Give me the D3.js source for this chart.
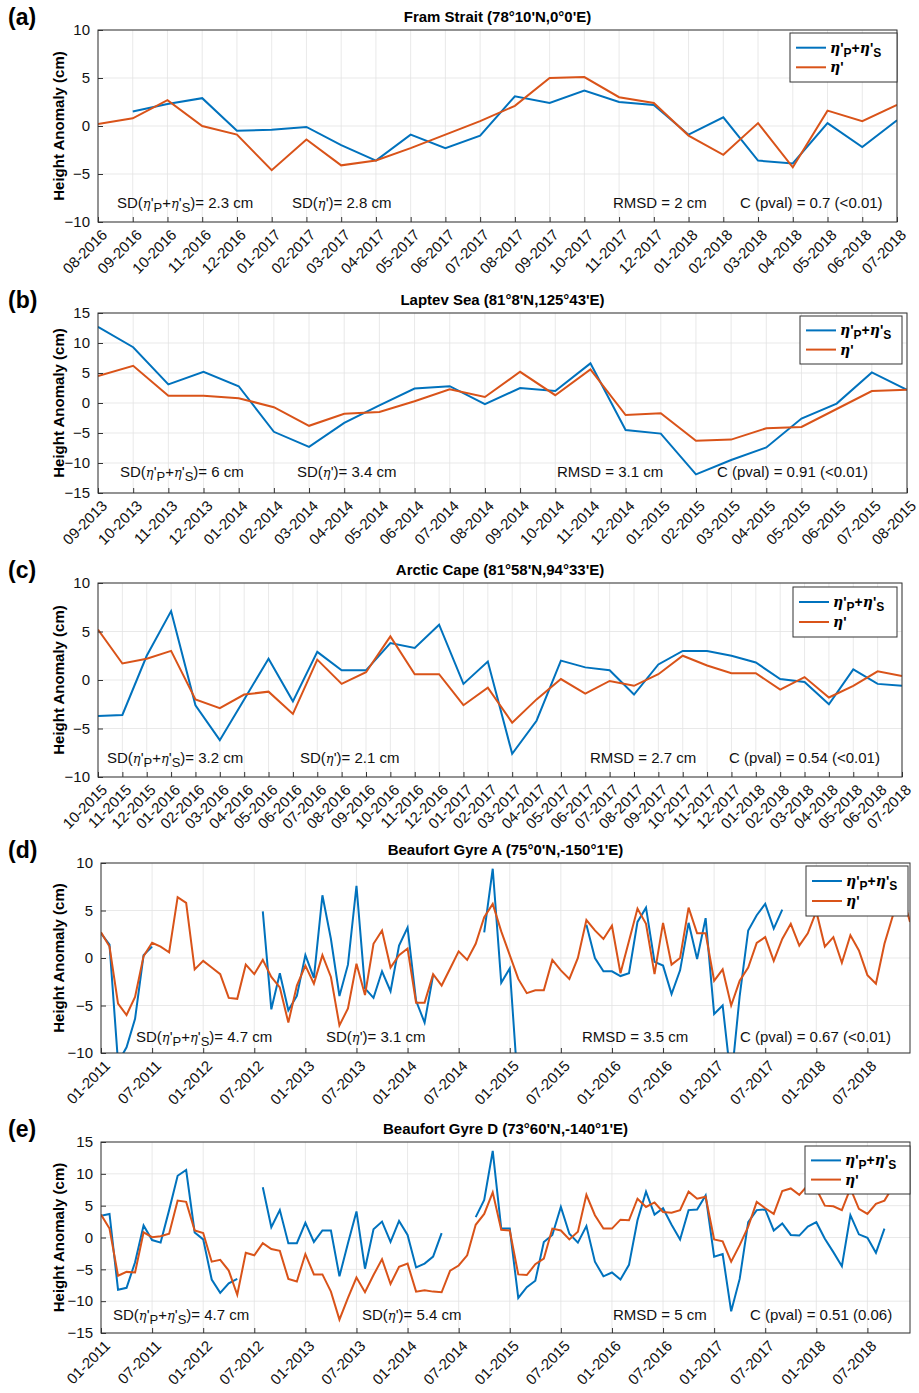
<!DOCTYPE html>
<html><head><meta charset="utf-8">
<script src="https://cdn.jsdelivr.net/npm/d3@7"></script>
<style>body{margin:0;background:#fff;font-family:"Liberation Sans",Arial,sans-serif}</style>
</head><body><div id="d3-container"></div>
<script>
// panel (a) Fram Strait, monthly 08-2016..07-2018
const monthsA = ["08-2016","09-2016","10-2016","11-2016","12-2016","01-2017","02-2017","03-2017","04-2017","05-2017","06-2017","07-2017","08-2017","09-2017","10-2017","11-2017","12-2017","01-2018","02-2018","03-2018","04-2018","05-2018","06-2018","07-2018"];
const blueA = [null,1.5,2.3,2.9,-0.5,-0.4,-0.1,-2,-3.6,-0.9,-2.3,-1,3.1,2.4,3.7,2.5,2.2,-0.9,0.9,-3.6,-3.9,0.3,-2.2,0.6];
const redA = [0.2,0.8,2.7,0,-0.9,-4.6,-1.4,-4.1,-3.6,-2.3,-0.9,0.5,2.1,5,5.1,3,2.4,-1,-3,0.3,-4.3,1.6,0.5,2.2];

// panel (b) Laptev Sea, 09-2013..08-2015
const monthsB = ["09-2013","10-2013","11-2013","12-2013","01-2014","02-2014","03-2014","04-2014","05-2014","06-2014","07-2014","08-2014","09-2014","10-2014","11-2014","12-2014","01-2015","02-2015","03-2015","04-2015","05-2015","06-2015","07-2015","08-2015"];
const blueB = [12.7,9.3,3.1,5.2,2.8,-4.8,-7.3,-3.3,-0.4,2.4,2.8,-0.2,2.5,2,6.6,-4.5,-5.1,-11.9,-9.5,-7.4,-2.6,-0.1,5.1,2.2];
const redB = [4.5,6.2,1.2,1.2,0.8,-0.7,-3.8,-1.8,-1.5,0.3,2.3,1,5.2,1.3,5.6,-2,-1.7,-6.3,-6.1,-4.2,-4,-1,2,2.2];

// panel (c) Arctic Cape, 10-2015..07-2018
const monthsC = ["10-2015","11-2015","12-2015","01-2016","02-2016","03-2016","04-2016","05-2016","06-2016","07-2016","08-2016","09-2016","10-2016","11-2016","12-2016","01-2017","02-2017","03-2017","04-2017","05-2017","06-2017","07-2017","08-2017","09-2017","10-2017","11-2017","12-2017","01-2018","02-2018","03-2018","04-2018","05-2018","06-2018","07-2018"];
const blueC = [-3.7,-3.6,2.5,7.1,-2.6,-6.2,-2,2.2,-2.2,2.9,1,1,3.8,3.3,5.7,-0.4,1.9,-7.6,-4.2,2,1.3,1,-1.5,1.6,3,3,2.5,1.8,0.1,-0.2,-2.5,1.1,-0.4,-0.6];
const redC = [5.2,1.7,2.2,3,-2,-2.9,-1.5,-1.2,-3.5,2.1,-0.4,0.8,4.5,0.6,0.6,-2.6,-0.8,-4.4,-2,0.1,-1.4,-0.1,-0.6,0.6,2.5,1.5,0.7,0.7,-1,0.3,-1.8,-0.6,0.9,0.4];

// panels (d),(e): monthly 01-2011..12-2018, labels every 6 months
const ticksDE = ["01-2011","07-2011","01-2012","07-2012","01-2013","07-2013","01-2014","07-2014","01-2015","07-2015","01-2016","07-2016","01-2017","07-2017","01-2018","07-2018"];
const blueD = [2.6,1.4,-11,-9.4,-6.4,0.3,1.2,null,null,null,null,null,null,null,null,null,null,null,null,
  4.9,-5.4,-1.6,-5.5,-4,0.3,-2.1,6.6,2,-4,-0.7,7.6,-3.2,-4.2,-1.4,-3.5,1.3,3.2,-4.5,-6.8,-1.8,
  null,null,null,null,null,2.7,9.4,-2.6,-1.1,-14,null,null,null,null,null,null,null,
  3.5,0,-1.4,-1.4,-1.9,-1.6,3.8,5.3,-0.4,-0.8,-3.8,-1.3,3.7,-0.1,4.2,-5.9,-5,-13,-4,2.9,4.5,5.7,3.1,5.1,
  null,null,null,null,null,null,null,null,null,null,null,null,null,null,null];
const redD = [2.7,1.2,-4.8,-6,-4.1,0.2,1.6,1.2,0.6,6.4,5.8,-1.2,-0.3,-1,-1.7,-4.2,-4.3,-0.7,-1.7,-0.2,
  -2,-3.1,-6.8,-2.9,-0.8,-2.7,0.3,-2,-7.1,-5.3,-0.6,-3.9,1.5,2.9,-1,0.3,1,-4.7,-4.7,-1.7,
  -2.9,-1.1,0.7,-0.2,1.5,4.3,5.7,2.8,0.3,-2.2,-3.7,-3.4,-3.4,-0.2,-1.3,-2.2,0,4,2.9,2,
  3.4,-1.6,1.8,5.2,3.6,-1.7,3.7,-0.7,0,5.3,2.6,2.6,-2.4,-1.2,-5,-2.4,-1,1.6,2.2,-0.3,
  2,3.6,1.3,2.6,4.9,1.2,2.2,-0.5,2.4,0.8,-1.8,-2.7,1.5,4.5,7,3.8];
const blueE = [3.4,3.7,-8.2,-7.9,-3.9,1.9,-0.4,-0.8,4.3,9.7,10.6,0.8,-0.3,-6.6,-8.7,-7.2,-6.5,null,null,
  7.9,1.6,4.3,-0.9,-0.9,2.3,-0.7,1.1,1.1,-6.1,-0.9,4.1,-4.9,1.3,2.5,-0.7,2.6,0.4,-4.7,-4.1,-3,0.7,
  null,null,null,3.2,5.9,13.6,1.4,1.4,-9.5,-7.8,-6.8,-0.7,0.4,4.8,0.6,-0.8,1.8,-3.8,-6.1,-5.5,-6.6,-4.3,
  2.7,7.2,3.6,4.6,2,-0.3,4.3,4.4,6.6,-3,-2.6,-11.6,-6.5,2.4,4.3,4.4,1.1,2.2,0.4,0.3,1.7,2.4,
  -0.2,-2.3,-4.5,3.5,0.5,-0.05,-2.4,1.4,null,null,null];
const redE = [3.6,1.4,-6,-5.4,-5.5,0.8,0.05,0.2,0.6,5.8,5.6,1.1,0.7,-3.8,-3.5,-5.2,-9,-2.4,-2.8,-0.9,
  -1.8,-2.1,-6.5,-6.9,-2.6,-5.8,-5.8,-8.5,-12.9,-9.5,-6.3,-8.6,-5.9,-3.4,-7.3,-4.6,-4.1,-8.5,-8.3,-8.5,
  -8.6,-5.2,-4.4,-2.8,2,3.7,7.1,1.2,1.1,-5.8,-5.9,-4.2,-3.3,1.4,1.1,-0.3,0.9,6.7,3.5,1.4,
  1.4,2.8,2.7,6.1,4.8,5.5,4,3.9,4.3,7.2,6.1,6.4,-0.3,-0.6,-3.8,-1.2,1.7,5.6,4.6,3.7,
  7.3,7.7,6.7,8.2,7.6,5,4.9,4.3,7.7,4.5,3.7,5.3,5.8,8,7.8,7];

const panels = [
  {tag:"(a)", title:"Fram Strait (78°10'N,0°0'E)", top:30, bottom:222, left:98, right:897, ymax:10, n:24, labels:monthsA, step:1, blue:blueA, red:redA,
   legend:[790,33,107,49], ann:[["sd1",117,"2.3"],["sd2",292,"2.8"],["t",613,"RMSD = 2 cm"],["t",740,"C (pval) = 0.7 (<0.01)"]], annY:208},
  {tag:"(b)", title:"Laptev Sea (81°8'N,125°43'E)", top:313, bottom:493, left:98, right:907, ymax:15, n:24, labels:monthsB, step:1, blue:blueB, red:redB,
   legend:[800,316,102,48], ann:[["sd1",120,"6"],["sd2",297,"3.4"],["t",557,"RMSD = 3.1 cm"],["t",717,"C (pval) = 0.91 (<0.01)"]], annY:477},
  {tag:"(c)", title:"Arctic Cape (81°58'N,94°33'E)", top:583, bottom:777, left:98, right:902, ymax:10, n:34, labels:monthsC, step:1, blue:blueC, red:redC,
   legend:[793,587,104,50], ann:[["sd1",107,"3.2"],["sd2",300,"2.1"],["t",590,"RMSD = 2.7 cm"],["t",729,"C (pval) = 0.54 (<0.01)"]], annY:763},
  {tag:"(d)", title:"Beaufort Gyre A (75°0'N,-150°1'E)", top:863, bottom:1053, left:101, right:910, ymax:10, n:96, labels:ticksDE, step:6, blue:blueD, red:redD,
   legend:[806,866,102,50], ann:[["sd1",136,"4.7"],["sd2",326,"3.1"],["t",582,"RMSD = 3.5 cm"],["t",740,"C (pval) = 0.67 (<0.01)"]], annY:1042},
  {tag:"(e)", title:"Beaufort Gyre D (73°60'N,-140°1'E)", top:1142, bottom:1333, left:101, right:910, ymax:15, n:96, labels:ticksDE, step:6, blue:blueE, red:redE,
   legend:[805,1146,105,48], ann:[["sd1",113,"4.7"],["sd2",362,"5.4"],["t",613,"RMSD = 5 cm"],["t",750,"C (pval) = 0.51 (0.06)"]], annY:1320}
];

const BLUE = "#0072BD", RED = "#D95319";
const FONT = '"Liberation Sans", Arial, sans-serif';
const svg = d3.select("#d3-container").append("svg").attr("width", 919).attr("height", 1393)
  .style("font-family", FONT);

panels.forEach((p, k) => {
  const g = svg.append("g");
  const x = d3.scaleLinear().domain([0, p.n - 1]).range([p.left, p.right]);
  const y = d3.scaleLinear().domain([-p.ymax, p.ymax]).range([p.bottom, p.top]);
  const tickIdx = p.labels.map((l, i) => i * p.step);
  const yt = d3.range(-p.ymax, p.ymax + 1, 5);

  g.append("rect").attr("x", p.left).attr("y", p.top).attr("width", p.right - p.left).attr("height", p.bottom - p.top).attr("fill", "#fff");
  // grid
  g.selectAll(".gx").data(tickIdx).join("line").attr("x1", d => x(d)).attr("x2", d => x(d))
    .attr("y1", p.top).attr("y2", p.bottom).attr("stroke", "#e3e3e3").attr("stroke-width", 0.8);
  g.selectAll(".gy").data(yt).join("line").attr("y1", d => y(d)).attr("y2", d => y(d))
    .attr("x1", p.left).attr("x2", p.right).attr("stroke", "#e3e3e3").attr("stroke-width", 0.8);

  // lines
  const clipId = "clip" + k;
  svg.append("clipPath").attr("id", clipId).append("rect").attr("x", p.left).attr("y", p.top)
    .attr("width", p.right - p.left).attr("height", p.bottom - p.top);
  const line = d3.line().defined(d => d != null).x((d, i) => x(i)).y(d => y(d));
  g.append("path").datum(p.blue).attr("d", line).attr("fill", "none").attr("stroke", BLUE)
    .attr("stroke-width", 2).attr("clip-path", `url(#${clipId})`);
  g.append("path").datum(p.red).attr("d", line).attr("fill", "none").attr("stroke", RED)
    .attr("stroke-width", 2).attr("clip-path", `url(#${clipId})`);

  // axes (inward ticks)
  const xAxis = d3.axisBottom(x).tickValues(tickIdx).tickSize(-5).tickFormat((d, i) => p.labels[i]);
  const ax = g.append("g").attr("transform", `translate(0,${p.bottom})`).call(xAxis);
  ax.selectAll("text").attr("transform", "rotate(-45)").attr("text-anchor", "end")
    .attr("dx", "-0.2em").attr("dy", "0.9em").style("font-size", "15px").style("font-family", FONT).attr("fill", "#111");
  const yAxis = d3.axisLeft(y).tickValues(yt).tickSize(-5).tickPadding(8);
  const ay = g.append("g").attr("transform", `translate(${p.left},0)`).call(yAxis);
  ay.selectAll("text").style("font-size", "15px").style("font-family", FONT).attr("fill", "#111");
  [ax, ay].forEach(a => { a.select(".domain").remove(); a.selectAll("line").attr("stroke", "#333"); });
  g.append("rect").attr("x", p.left).attr("y", p.top).attr("width", p.right - p.left).attr("height", p.bottom - p.top)
    .attr("fill", "none").attr("stroke", "#333").attr("stroke-width", 1);

  // title, tag, y label
  g.append("text").attr("x", (p.left + p.right) / 2).attr("y", p.top - 8).attr("text-anchor", "middle")
    .style("font-size", "15px").style("font-weight", "bold").text(p.title);
  g.append("text").attr("x", 8).attr("y", p.top - 5).style("font-size", "23px").style("font-weight", "bold").text(p.tag);
  g.append("text").attr("transform", `translate(64,${(p.top + p.bottom) / 2}) rotate(-90)`).attr("text-anchor", "middle")
    .style("font-size", "15px").style("font-weight", "bold").text("Height Anomaly (cm)");

  // annotations
  p.ann.forEach(a => {
    const t = g.append("text").attr("x", a[1]).attr("y", p.annY).style("font-size", "15px").attr("fill", "#111");
    if (a[0] === "sd1") {
      t.append("tspan").text("SD(");
      t.append("tspan").style("font-style", "italic").style("font-family", "DejaVu Serif").style("font-size", "13px").text("η");
      t.append("tspan").text("'");
      t.append("tspan").attr("baseline-shift", "-30%").style("font-size", "13px").text("P");
      t.append("tspan").text("+");
      t.append("tspan").style("font-style", "italic").style("font-family", "DejaVu Serif").style("font-size", "13px").text("η");
      t.append("tspan").text("'");
      t.append("tspan").attr("baseline-shift", "-30%").style("font-size", "13px").text("S");
      t.append("tspan").text(")= " + a[2] + " cm");
    } else if (a[0] === "sd2") {
      t.append("tspan").text("SD(");
      t.append("tspan").style("font-style", "italic").style("font-family", "DejaVu Serif").style("font-size", "13px").text("η");
      t.append("tspan").text("')= " + a[2] + " cm");
    } else t.text(a[2]);
  });

  // legend
  const [lx, ly, lw, lh] = p.legend;
  const lg = g.append("g");
  lg.append("rect").attr("x", lx).attr("y", ly).attr("width", lw).attr("height", lh).attr("fill", "#fff").attr("stroke", "#333");
  [[BLUE, 1], [RED, 2]].forEach(([c, r]) => {
    const yy = ly + lh * (r === 1 ? 0.3 : 0.7);
    lg.append("line").attr("x1", lx + 6).attr("x2", lx + 36).attr("y1", yy).attr("y2", yy).attr("stroke", c).attr("stroke-width", 2);
    const t = lg.append("text").attr("x", lx + 40).attr("y", yy + 5).style("font-size", "14px").style("font-weight", "bold");
    t.append("tspan").style("font-style", "italic").style("font-family", "DejaVu Serif").text("η");
    t.append("tspan").text("'");
    if (r === 1) {
      t.append("tspan").attr("baseline-shift", "-30%").style("font-size", "12px").text("P");
      t.append("tspan").text("+");
      t.append("tspan").style("font-style", "italic").style("font-family", "DejaVu Serif").text("η");
      t.append("tspan").text("'");
      t.append("tspan").attr("baseline-shift", "-30%").style("font-size", "12px").text("S");
    }
  });
});
</script></body></html>
